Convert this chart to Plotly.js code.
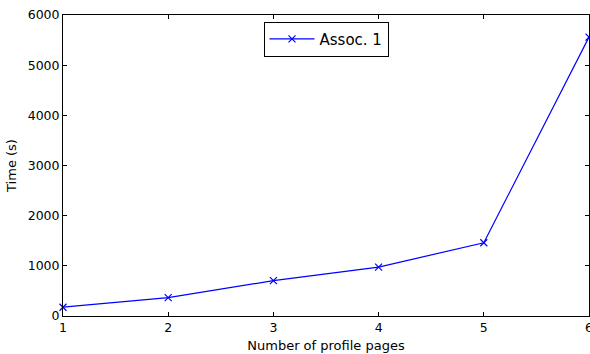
<!DOCTYPE html>
<html>
<head>
<meta charset="utf-8">
<script src="https://cdn.plot.ly/plotly-3.0.1.min.js"></script>
<style>html,body{margin:0;padding:0;background:#fff;}#chart{width:590px;height:354px;}</style>
</head>
<body>
<div id="chart"></div>
<script>
const pages = [1, 2, 3, 4, 5, 6];
const times = [175, 365, 705, 975, 1460, 5560];
const seriesName = "Assoc. 1";
const xTitle = "Number of profile pages";
const yTitle = "Time (s)";

const font = "DejaVu Sans, sans-serif";
const trace = {
  x: pages, y: times, name: seriesName, type: "scatter", mode: "lines+markers",
  line: {color: "#0000ff", width: 1.2},
  marker: {symbol: "x-thin-open", size: 7, color: "#0000ff", line: {color: "#0000ff", width: 1.2}},
  cliponaxis: false
};
const axisCommon = {
  showgrid: false, zeroline: false, showline: true, linecolor: "#000", linewidth: 1,
  mirror: "ticks", ticks: "inside", ticklen: 4, tickwidth: 1, tickcolor: "#000",
  ticklabeloverflow: "allow",
  tickfont: {family: font, size: 12.5, color: "#000"}
};
const layout = {
  width: 590, height: 354,
  margin: {l: 63, r: 1, t: 15, b: 38},
  paper_bgcolor: "#fff", plot_bgcolor: "#fff",
  font: {family: font, color: "#000"},
  showlegend: true,
  legend: {x: 0.5, xanchor: "center", y: 0.978, yanchor: "top",
    bordercolor: "#000", borderwidth: 1, bgcolor: "#fff", itemwidth: 45,
    font: {family: font, size: 15, color: "#000"}},
  xaxis: Object.assign({}, axisCommon, {range: [1, 6], dtick: 1,
    title: {text: xTitle, font: {family: font, size: 13}, standoff: 6}}),
  yaxis: Object.assign({}, axisCommon, {range: [0, 6000], dtick: 1000,
    title: {text: yTitle, font: {family: font, size: 13}, standoff: 8}})
};
Plotly.newPlot("chart", [trace], layout, {staticPlot: true, displayModeBar: false});
</script>
</body>
</html>
